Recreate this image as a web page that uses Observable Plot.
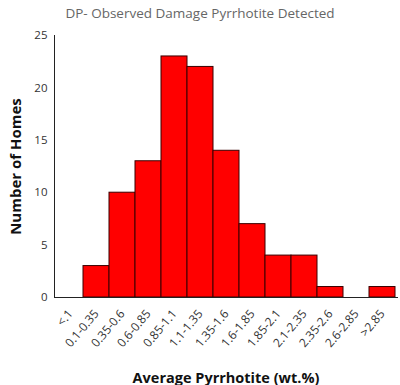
<!DOCTYPE html>
<html><head><meta charset="utf-8">
<script src="https://cdn.jsdelivr.net/npm/d3@7"></script>
<script src="https://cdn.jsdelivr.net/npm/@observablehq/plot@0.6"></script>
<style>
body{margin:0;background:#fff;font-family:"Open Sans",sans-serif;}
#title{height:24px;line-height:26px;text-align:center;color:#666;font-size:13.5px;width:400px;}
g[aria-label="y-axis label"] text, g[aria-label="x-axis label"] text{font-weight:bold;fill:#111;}
g[aria-label="y-axis label"] text{font-size:15px;}
g[aria-label="x-axis label"] text{font-size:14.5px;}
</style>
</head><body>
<div id="title">DP- Observed Damage Pyrrhotite Detected</div>
<div id="chart"></div>
<script>
const categories = ["<.1","0.1-0.35","0.35-0.6","0.6-0.85","0.85-1.1","1.1-1.35","1.35-1.6","1.6-1.85","1.85-2.1","2.1-2.35","2.35-2.6","2.6-2.85",">2.85"];
const homes = [0,3,10,13,23,22,14,7,4,4,1,0,1];
const yTicks = [0,5,10,15,20,25];
const data = categories.map((c,i)=>({c, v: homes[i]}));
const chart = Plot.plot({
  width: 400, height: 361,
  marginTop: 11, marginBottom: 88, marginLeft: 54, marginRight: 3,
  style: {fontFamily: "Open Sans, sans-serif", fontSize: "11px", color: "#333"},
  x: {domain: categories, padding: 0},
  y: {domain: [0,25]},
  marks: [
    Plot.barY(data, {x:"c", y:"v", fill:"#ff0000", stroke:"#3a0000", strokeWidth:1}),
    Plot.axisX({tickSize:0, tickRotate:-50, tickPadding:14, fontSize:12, label:"Average Pyrrhotite (wt.%)", labelAnchor:"center", labelArrow:"none", labelOffset:85}),
    Plot.axisY({ticks: yTicks, tickSize:0, tickPadding:7, fontSize:11.5, label:"Number of Homes", labelAnchor:"center", labelArrow:"none", labelOffset:44}),
    Plot.frame({anchor:"left", stroke:"#222"}),
    Plot.frame({anchor:"bottom", stroke:"#222"})
  ]
});
document.getElementById("chart").appendChild(chart);
</script>
</body></html>
